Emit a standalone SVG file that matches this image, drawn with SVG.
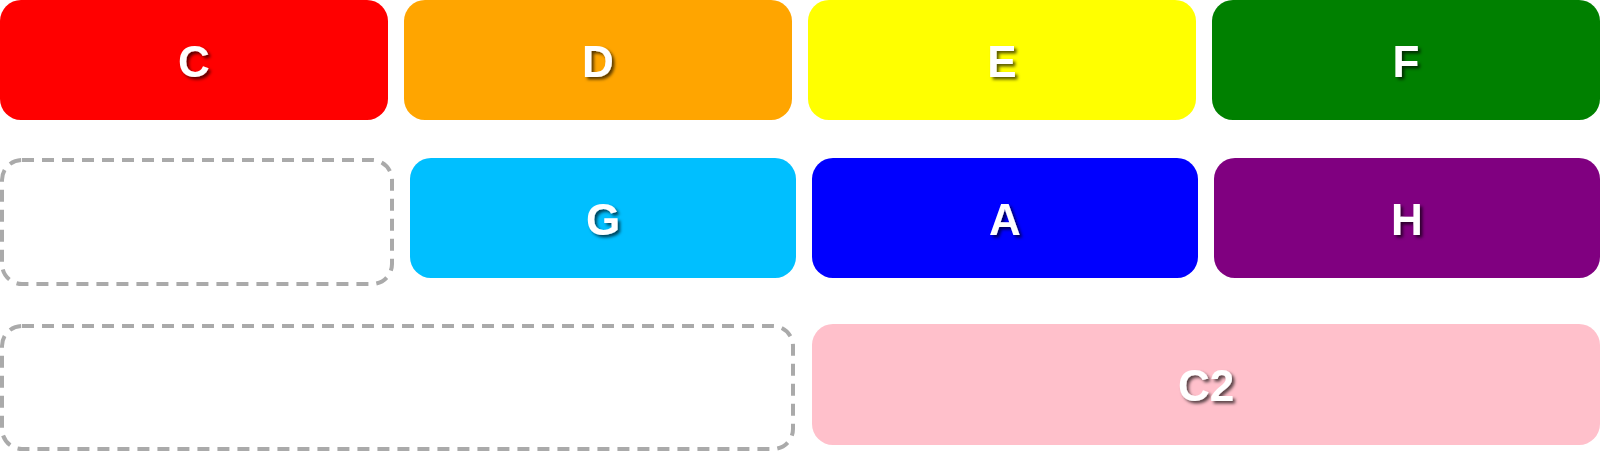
<svg xmlns="http://www.w3.org/2000/svg" width="1600" height="454" viewBox="0 0 1600 454">
<defs>
<filter id="ts" x="-20%" y="-20%" width="150%" height="150%">
<feDropShadow dx="2.5" dy="2.5" stdDeviation="1.5" flood-color="#000" flood-opacity="0.65"/>
</filter>
</defs>
<style>
.box{stroke:none}
.ph{fill:none;stroke:#aaaaaa;stroke-width:4;stroke-dasharray:12 8}
.lbl{font-family:"Liberation Sans",Arial,sans-serif;font-weight:bold;font-size:44px;fill:#fff;text-anchor:middle;filter:url(#ts)}
</style>
<rect width="1600" height="454" fill="#fff"/>
<g id="C"><rect class="box" x="0" y="0" width="388" height="120" rx="21" fill="#ff0000"/><text class="lbl" x="194" y="77">C</text></g>
<g id="D"><rect class="box" x="404" y="0" width="388" height="120" rx="21" fill="#ffa500"/><text class="lbl" x="598" y="77">D</text></g>
<g id="E"><rect class="box" x="808" y="0" width="388" height="120" rx="21" fill="#ffff00"/><text class="lbl" x="1002" y="77">E</text></g>
<g id="F"><rect class="box" x="1212" y="0" width="388" height="120" rx="21" fill="#008000"/><text class="lbl" x="1406" y="77">F</text></g>
<g id="placeholder1"><rect class="ph" x="2" y="160" width="390" height="124" rx="20"/></g>
<g id="G"><rect class="box" x="410" y="158" width="386" height="120" rx="21" fill="#00bfff"/><text class="lbl" x="603" y="235">G</text></g>
<g id="A"><rect class="box" x="812" y="158" width="386" height="120" rx="21" fill="#0000ff"/><text class="lbl" x="1005" y="235">A</text></g>
<g id="H"><rect class="box" x="1214" y="158" width="386" height="120" rx="21" fill="#800080"/><text class="lbl" x="1407" y="235">H</text></g>
<g id="placeholder2"><rect class="ph" x="2" y="326" width="791" height="123" rx="20"/></g>
<g id="C2"><rect class="box" x="812" y="324" width="788" height="121" rx="21" fill="#ffc0cb"/><text class="lbl" x="1206" y="401">C2</text></g>
<g id="connectors"></g>
</svg>
